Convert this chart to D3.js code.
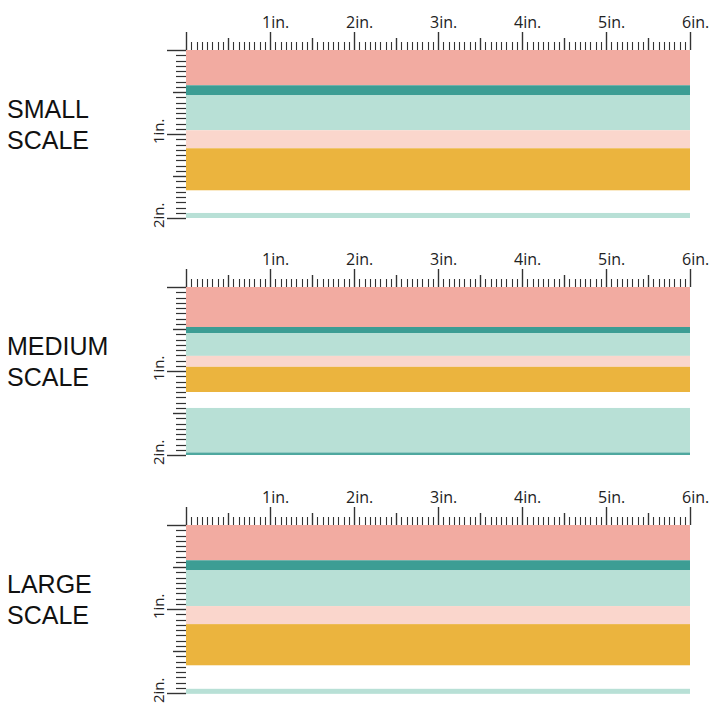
<!DOCTYPE html>
<html>
<head>
<meta charset="utf-8">
<script src="https://cdn.jsdelivr.net/npm/d3@7"></script>
<style>
  html, body { margin: 0; padding: 0; background: #ffffff; }
  svg { display: block; }
</style>
</head>
<body>
<svg id="chart" width="720" height="720"></svg>
<script>
// ---------- data ----------
const panelNames = ["SMALL", "MEDIUM", "LARGE"];
const panelSuffix = "SCALE";
const topTickLabels = ["1in.", "2in.", "3in.", "4in.", "5in.", "6in."];
const sideTickLabels = ["1in.", "2in."];

// stripes: [start inch, end inch, colour key]
const smallStripes = [
  [0.00, 0.42, "salmon"],
  [0.42, 0.54, "teal"],
  [0.54, 0.955, "mint"],
  [0.955, 1.17, "blush"],
  [1.17, 1.67, "gold"],
  [1.94, 2.00, "mint"]
];
const mediumStripes = [
  [0.00, 0.476, "salmon"],
  [0.476, 0.548, "teal"],
  [0.548, 0.82, "mint"],
  [0.82, 0.95, "blush"],
  [0.95, 1.25, "gold"],
  [1.44, 1.97, "mint"],
  [1.97, 2.00, "tealLight"]
];
const largeStripes = [
  [0.00, 0.42, "salmon"],
  [0.42, 0.54, "teal"],
  [0.54, 0.965, "mint"],
  [0.965, 1.18, "blush"],
  [1.18, 1.67, "gold"],
  [1.95, 2.01, "mint"]
];
const panelStripes = [smallStripes, mediumStripes, largeStripes];

// ---------- styles ----------
const colours = {
  salmon: "#F2ABA1",
  teal: "#3C9D94",
  tealLight: "#4FA89F",
  mint: "#B8E0D6",
  blush: "#FAD6CC",
  gold: "#EBB43E"
};
const panelTop = [50, 287, 525];
const rulerLeft = 186, rulerRight = 690;
const pxPerInch = 84;

const svg = d3.select("#chart");

panelNames.forEach((name, pi) => {
  const y0 = panelTop[pi];
  const x = d3.scaleLinear().domain([0, 6]).range([rulerLeft, rulerRight]);
  const y = d3.scaleLinear().domain([0, 2]).range([y0, y0 + 2 * pxPerInch]);
  const g = svg.append("g");

  // stripes
  g.selectAll("rect.stripe")
    .data(panelStripes[pi])
    .join("rect")
    .attr("class", "stripe")
    .attr("x", x(0))
    .attr("width", x(6) - x(0))
    .attr("y", d => y(d[0]))
    .attr("height", d => y(d[1]) - y(d[0]))
    .attr("fill", d => colours[d[2]]);

  // ticks every 1/16 inch
  const tickLen = v => {
    const s = Math.round(v * 16);
    if (s % 16 === 0) return 18;
    if (s % 8 === 0) return 12;
    return 8;
  };
  const topTicks = d3.range(0, 6 * 16 + 1).map(i => i / 16);
  g.selectAll("line.ttick")
    .data(topTicks)
    .join("line")
    .attr("class", "ttick")
    .attr("x1", d => Math.round(x(d)) + 0.5)
    .attr("x2", d => Math.round(x(d)) + 0.5)
    .attr("y1", y0)
    .attr("y2", d => y0 - tickLen(d))
    .attr("stroke", "#333")
    .attr("stroke-width", d => tickLen(d) > 8 ? 1.4 : 1.1);

  const sideTicks = d3.range(0, 2 * 16 + 1).map(i => i / 16);
  g.selectAll("line.stick")
    .data(sideTicks)
    .join("line")
    .attr("class", "stick")
    .attr("y1", d => Math.round(y(d)) + 0.5)
    .attr("y2", d => Math.round(y(d)) + 0.5)
    .attr("x1", rulerLeft)
    .attr("x2", d => rulerLeft - (tickLen(d) === 8 ? 10 : tickLen(d) === 12 ? 13 : 19))
    .attr("stroke", "#333")
    .attr("stroke-width", d => tickLen(d) > 8 ? 1.4 : 1.2);

  // top labels
  g.selectAll("text.tlab")
    .data(topTickLabels)
    .join("text")
    .attr("class", "tlab")
    .attr("x", (d, i) => x(i + 1) - 8)
    .attr("y", y0 - 22)
    .attr("font-family", "'Open Sans', sans-serif")
    .attr("font-size", 16)
    .attr("fill", "#222")
    .text(d => d);

  // side labels (rotated)
  g.selectAll("text.slab")
    .data(sideTickLabels)
    .join("text")
    .attr("class", "slab")
    .attr("transform", (d, i) => `translate(164,${y(i + 1) + 10}) rotate(-90)`)
    .attr("font-family", "'Open Sans', sans-serif")
    .attr("font-size", 15)
    .attr("fill", "#222")
    .text(d => d);

  // scale name
  const t = g.append("text")
    .attr("font-family", "'Liberation Sans', Arial, sans-serif")
    .attr("font-size", 25)
    .attr("fill", "#111");
  t.append("tspan").attr("x", 7).attr("y", y0 + 67.5).text(name);
  t.append("tspan").attr("x", 7).attr("y", y0 + 98.5).text(panelSuffix);
});
</script>
</body>
</html>
